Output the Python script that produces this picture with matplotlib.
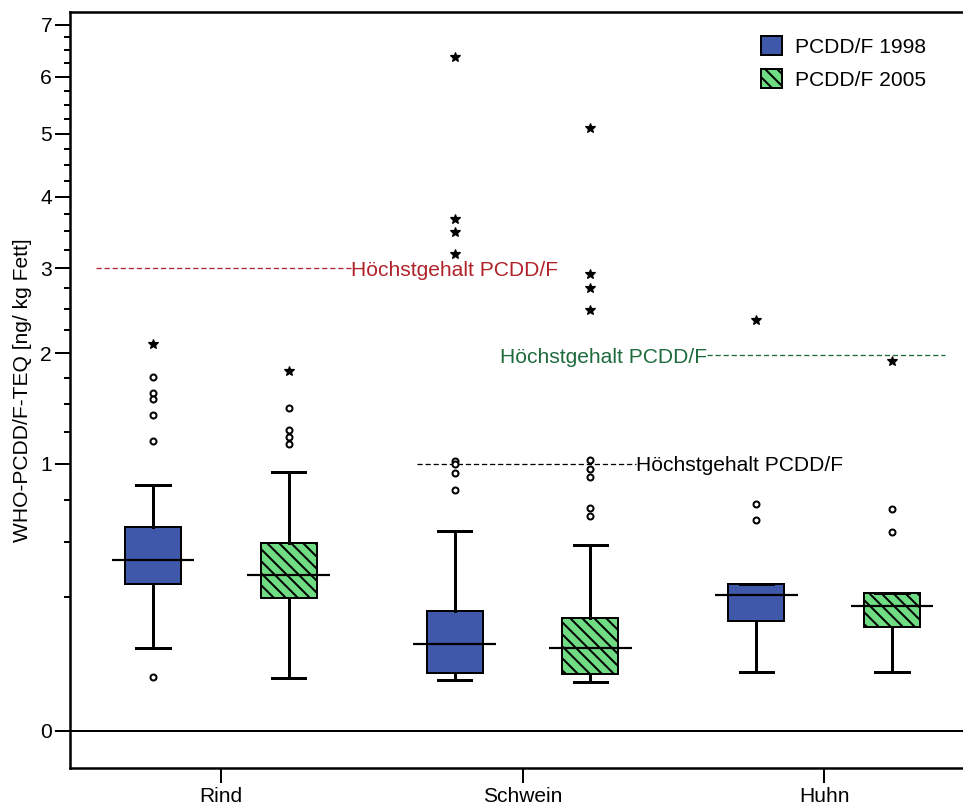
#!/usr/bin/env python3
"""
Boxplots of WHO-PCDD/F-TEQ in fat for Rind / Schwein / Huhn,
1998 vs 2005 TEF values, on a square-root y axis with the legal limits.
"""

import numpy as np
import matplotlib
matplotlib.use('Agg')
import matplotlib.pyplot as plt
from matplotlib.patches import Patch

plt.rcParams['font.family'] = ['Liberation Sans', 'DejaVu Sans']
plt.rcParams['hatch.linewidth'] = 2.0

# --- data (ng/kg fat) ---
categories = ['Rind', 'Schwein', 'Huhn']
series = ['PCDD/F 1998', 'PCDD/F 2005']

q1_1998 = [0.305, 0.047, 0.171]
med_1998 = [0.410, 0.107, 0.259]
q3_1998 = [0.585, 0.202, 0.302]
whislo_1998 = [0.096, 0.037, 0.049]
whishi_1998 = [0.847, 0.563, 0.302]
circles_1998 = [
    [1.755, 1.600, 1.549, 1.398, 1.182, 0.041],
    [1.020, 1.000, 0.936, 0.815],
    [0.723, 0.625],
]
stars_1998 = [
    [2.10],
    [6.377, 3.677, 3.493, 3.187],
    [2.370],
]

q1_2005 = [0.248, 0.045, 0.151]
med_2005 = [0.340, 0.097, 0.220]
q3_2005 = [0.498, 0.180, 0.268]
whislo_2005 = [0.039, 0.034, 0.048]
whishi_2005 = [0.939, 0.483, 0.268]
circles_2005 = [
    [1.461, 1.268, 1.210, 1.153],
    [1.030, 0.960, 0.907, 0.700, 0.650],
    [0.689, 0.555],
]
stars_2005 = [
    [1.821],
    [5.106, 2.930, 2.756, 2.486],
    [1.923],
]

# legal limits: Rind 3, Schwein 1, Huhn 2
limit_values = [3.0, 1.0, 1.98]
limit_colors = ['#b0222a', '#000000', '#1d6b3c']
limit_label = 'Höchstgehalt PCDD/F'

BLUE = '#3f58a9'
GREEN = '#6fdc83'


def fwd(x):
    x = np.asarray(x, dtype=float)
    return np.sign(x) * np.sqrt(np.abs(x))


def inv(x):
    x = np.asarray(x, dtype=float)
    return np.sign(x) * x ** 2


def make_stats(q1, med, q3, lo, hi):
    return [dict(q1=a, med=b, q3=c, whislo=d, whishi=e, fliers=[])
            for a, b, c, d, e in zip(q1, med, q3, lo, hi)]


def draw_group(ax, positions, stats, circles, stars, color, hatch):
    bp = ax.bxp(stats, positions=positions, widths=0.185, patch_artist=True,
                showfliers=False, capwidths=0.11,
                boxprops=dict(facecolor=color, edgecolor='black', linewidth=2, hatch=hatch),
                whiskerprops=dict(color='black', linewidth=3),
                capprops=dict(color='black', linewidth=3),
                medianprops=dict(linewidth=0))
    for p, st in zip(positions, stats):
        ax.plot([p - 0.137, p + 0.137], [st['med'], st['med']], color='black',
                lw=2.2, zorder=4, solid_capstyle='butt')
    for p, c, s in zip(positions, circles, stars):
        ax.plot([p] * len(c), c, 'o', ms=6, mfc='white', mec='black', mew=2, zorder=5)
        ax.plot([p] * len(s), s, '*', ms=10, color='black', mew=1.2, zorder=5)
    return bp


def main():
    fig = plt.figure(figsize=(963 / 72, 810 / 72), dpi=72)
    ax = fig.add_axes([70 / 963, 42 / 810, 905 / 963, 756 / 810])

    ax.set_yscale('function', functions=(fwd, inv))
    ax.set_ylim(-0.0192, 7.25)
    ax.set_xlim(-0.5, 2.5)

    x = np.arange(len(categories))
    off = 0.225
    draw_group(ax, x - off,
               make_stats(q1_1998, med_1998, q3_1998, whislo_1998, whishi_1998),
               circles_1998, stars_1998, BLUE, None)
    draw_group(ax, x + off,
               make_stats(q1_2005, med_2005, q3_2005, whislo_2005, whishi_2005),
               circles_2005, stars_2005, GREEN, '\\\\')

    # zero line
    ax.axhline(0, color='black', lw=2, zorder=1)

    # limit lines with labels
    dash = (0, (4, 2.2))
    ax.plot([-0.414, 0.430], [limit_values[0]] * 2, color=limit_colors[0], lw=1.3, ls=dash)
    ax.text(0.430, limit_values[0], limit_label, color=limit_colors[0], fontsize=21,
            ha='left', va='center_baseline')
    ax.plot([0.649, 1.377], [limit_values[1]] * 2, color=limit_colors[1], lw=1.3, ls=dash)
    ax.text(1.377, limit_values[1], limit_label, color=limit_colors[1], fontsize=21,
            ha='left', va='center_baseline')
    ax.plot([1.613, 2.401], [limit_values[2]] * 2, color=limit_colors[2], lw=1.3, ls=dash)
    ax.text(1.613, limit_values[2], limit_label, color=limit_colors[2], fontsize=21,
            ha='right', va='center_baseline')

    # axes styling
    ax.set_xticks(x)
    ax.set_xticklabels(categories, fontsize=21)
    ax.set_yticks(np.arange(0, 8))
    ax.set_yticklabels([str(v) for v in range(8)], fontsize=21)
    minor = [v for v in np.arange(0, 7.01, 0.25) if v % 1 != 0]
    ax.set_yticks(minor, minor=True)
    ax.tick_params(axis='y', which='major', length=15, width=2, pad=3)
    ax.tick_params(axis='y', which='minor', length=6, width=2)
    ax.tick_params(axis='x', which='major', length=15, width=2, pad=4)
    ax.tick_params(axis='x', which='minor', length=0)
    for side in ['left', 'bottom', 'top']:
        ax.spines[side].set_linewidth(2.5)
    ax.spines['right'].set_visible(False)

    ax.set_ylabel('WHO-PCDD/F-TEQ [ng/ kg Fett]', fontsize=21, labelpad=8)

    handles = [Patch(facecolor=BLUE, edgecolor='black', lw=2),
               Patch(facecolor=GREEN, edgecolor='black', lw=2, hatch='\\\\')]
    fig.legend(handles, series, loc='upper left', bbox_to_anchor=(761 / 963, 1 - 36 / 810),
               frameon=False, fontsize=21, handlelength=1.0, handleheight=1.0,
               handletextpad=0.6, labelspacing=0.6, borderpad=0, borderaxespad=0)

    fig.savefig('out.png', dpi=72)
    plt.close(fig)


if __name__ == '__main__':
    main()
